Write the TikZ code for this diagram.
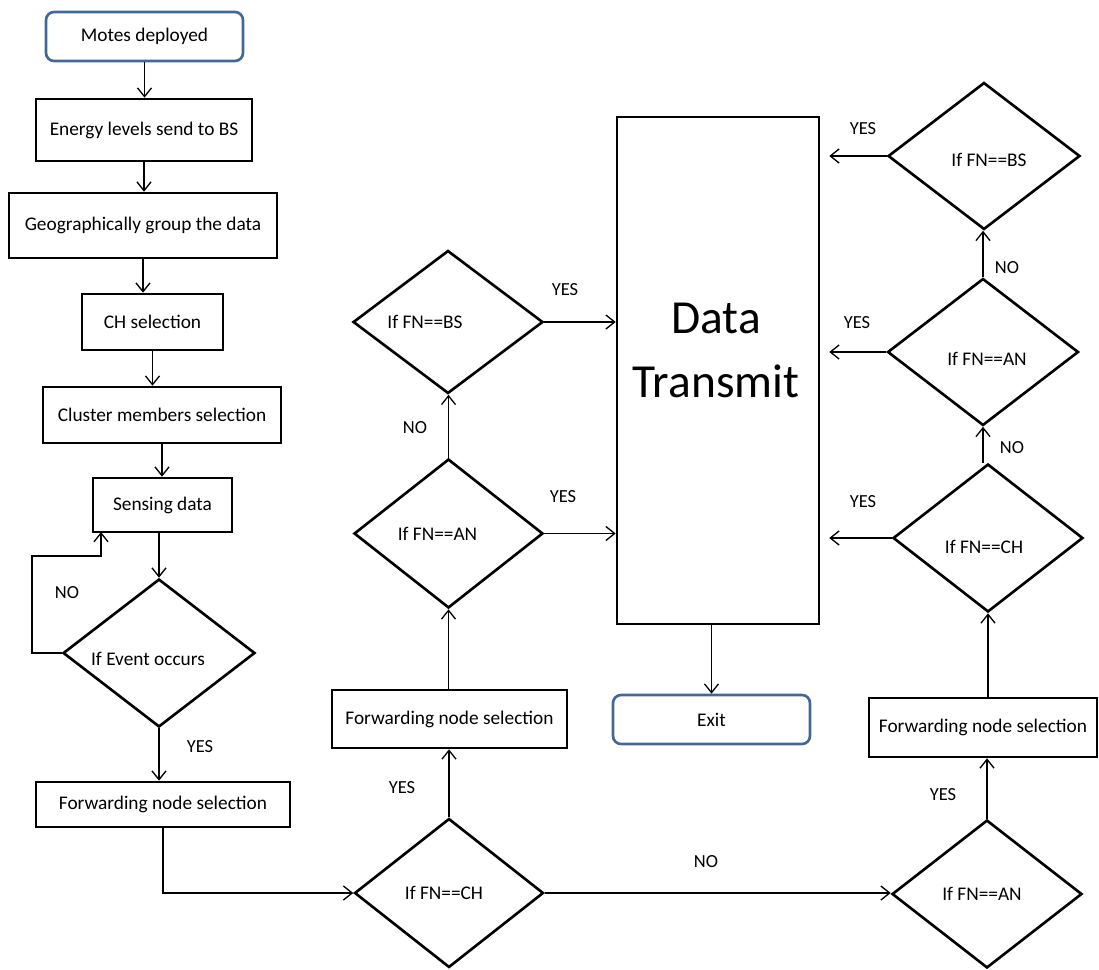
\documentclass[tikz,border=0pt]{standalone}
\usepackage{fontspec}
\setmainfont{Carlito}
\usetikzlibrary{shapes.geometric,arrows.meta}
\definecolor{termblue}{RGB}{66,104,152}
\begin{document}
\begin{tikzpicture}[x=0.02cm,y=-0.02cm,
  every node/.style={font=\fontsize{11}{13}\selectfont},
  stepbox/.style={draw=black, line width=1.5pt, rectangle, inner sep=0pt},
  termbox/.style={draw=termblue, line width=1.5pt, rounded corners=0.16cm, inner sep=0pt},
  decbox/.style={draw=black, line width=1.5pt, diamond, inner sep=0pt, aspect=1},
  arr/.style={-{Straight Barb[length=5pt,width=8pt]}, line width=0.75pt},
  gap/.style={shorten >=0.18cm},
  tag/.style={font=\fontsize{10.5}{12}\selectfont},
]
\useasboundingbox (0,0) rectangle (1099,970);

% left column: setup and sensing
\node[termbox, minimum width=3.94cm, minimum height=0.98cm] (motes) at (144.5,36.5) {Motes deployed};
\node[stepbox, minimum width=4.32cm, minimum height=1.24cm] (energy) at (144,130) {Energy levels send to BS};
\node[stepbox, minimum width=5.36cm, minimum height=1.30cm] (geo) at (143,225.5) {Geographically group the data};
\node[stepbox, minimum width=2.82cm, minimum height=1.12cm] (chsel) at (152.5,322) {CH selection};
\node[stepbox, minimum width=4.76cm, minimum height=1.12cm] (cluster) at (162,415) {Cluster members selection};
\node[stepbox, minimum width=2.78cm, minimum height=1.08cm] (sensing) at (162.5,505) {Sensing data};
\node[decbox, minimum width=3.84cm, minimum height=2.96cm,
      label={[xshift=-0.22cm, yshift=-0.12cm]center:If Event occurs}] (event) at (159,653) {};
\node[stepbox, minimum width=5.08cm, minimum height=0.90cm] (fwdL) at (163,804.5) {Forwarding node selection};

% middle column
\node[decbox, minimum width=3.78cm, minimum height=2.98cm,
      label={[xshift=-0.1cm]center:If FN==CH}] (chM) at (449,893) {};
\node[stepbox, minimum width=4.70cm, minimum height=1.16cm] (fwdM) at (449.5,719) {Forwarding node selection};
\node[decbox, minimum width=3.78cm, minimum height=2.98cm,
      label={[xshift=-0.22cm]center:If FN==AN}] (anM) at (448.5,533.5) {};
\node[decbox, minimum width=3.80cm, minimum height=2.86cm,
      label={[xshift=-0.46cm]center:If FN==BS}] (bsM) at (448,322) {};

% central block and exit
\node[stepbox, minimum width=4.04cm, minimum height=10.14cm,
      label={[align=center, xshift=-0.04cm, yshift=0.4cm, font=\fontsize{27}{36}\selectfont]center:Data\\Transmit}] (data) at (718,370.5) {};
\node[termbox, minimum width=3.94cm, minimum height=0.98cm] (exit) at (711.5,719.5) {Exit};

% right column
\node[decbox, minimum width=3.80cm, minimum height=2.96cm,
      label={[xshift=-0.1cm]center:If FN==AN}] (anR) at (987,894) {};
\node[stepbox, minimum width=4.56cm, minimum height=1.18cm] (fwdR) at (983,727.5) {Forwarding node selection};
\node[decbox, minimum width=3.80cm, minimum height=2.96cm,
      label={[xshift=-0.08cm, yshift=-0.18cm]center:If FN==CH}] (chR) at (988,538) {};
\node[decbox, minimum width=3.82cm, minimum height=2.94cm,
      label={[xshift=0.08cm, yshift=-0.14cm]center:If FN==AN}] (anR2) at (983,352) {};
\node[decbox, minimum width=3.84cm, minimum height=2.94cm,
      label={[xshift=0.1cm, yshift=-0.08cm]center:If FN==BS}] (bsR) at (984,156) {};

% branch labels
\node[tag] (tNoLoop) at (67,593) {NO};
\node[tag] (tYesEvent) at (200,747) {YES};
\node[tag] (tYesChM) at (402,788) {YES};
\node[tag] (tNoChM) at (706,862) {NO};
\node[tag] (tYesAnR) at (943,795) {YES};
\node[tag] (tNoAnM) at (415,428) {NO};
\node[tag] (tYesBsM) at (565,290) {YES};
\node[tag] (tYesAnM) at (563,497) {YES};
\node[tag] (tYesBsR) at (863,129) {YES};
\node[tag] (tNoAnR2) at (1007,268) {NO};
\node[tag] (tYesAnR2) at (857,323) {YES};
\node[tag] (tNoChR) at (1012,448) {NO};
\node[tag] (tYesChR) at (863,502) {YES};

% loop-back corner
\coordinate (loopL) at (32,556);
\coordinate (loopIn) at (101,532);

% connectors
\draw[arr] (motes.south) -- (motes.south |- energy.north);
\draw[arr] (energy.south) -- (energy.south |- geo.north);
\draw[arr] (geo.south) -- (geo.south |- chsel.north);
\draw[arr] (chsel.south) -- (chsel.south |- cluster.north);
\draw[arr] (cluster.south) -- (cluster.south |- sensing.north);
\draw[arr] (sensing.south -| event.north) -- (event.north);
\draw[arr] (event.west) -| (loopL) -| (loopIn);
\draw[arr] (event.south) -- (event.south |- fwdL.north);
\draw[arr] (fwdL.south) |- (chM.west);

\draw[arr] (chM.north) -- (chM.north |- fwdM.south);
\draw[arr] (fwdM.north -| anM.south) -- (anM.south);
\draw[arr] (anM.north) -- (anM.north |- bsM.south);
\draw[arr] (bsM.east) -- (bsM.east -| data.west);
\draw[arr] (anM.east) -- (anM.east -| data.west);
\draw[arr] (data.south -| exit.north) -- (exit.north);

\draw[arr] (chM.east) -- (chM.east -| anR.west);
\draw[arr] (anR.north) -- (anR.north |- fwdR.south);
\draw[arr] (fwdR.north -| chR.south) -- (chR.south);
\draw[arr] (chR.north -| anR2.south) -- (anR2.south);
\draw[arr] (anR2.north) -- (anR2.north |- bsR.south);
\draw[arr, gap] (bsR.west) -- (bsR.west -| data.east);
\draw[arr, gap] (anR2.west) -- (anR2.west -| data.east);
\draw[arr, gap] (chR.west) -- (chR.west -| data.east);
\end{tikzpicture}
\end{document}
